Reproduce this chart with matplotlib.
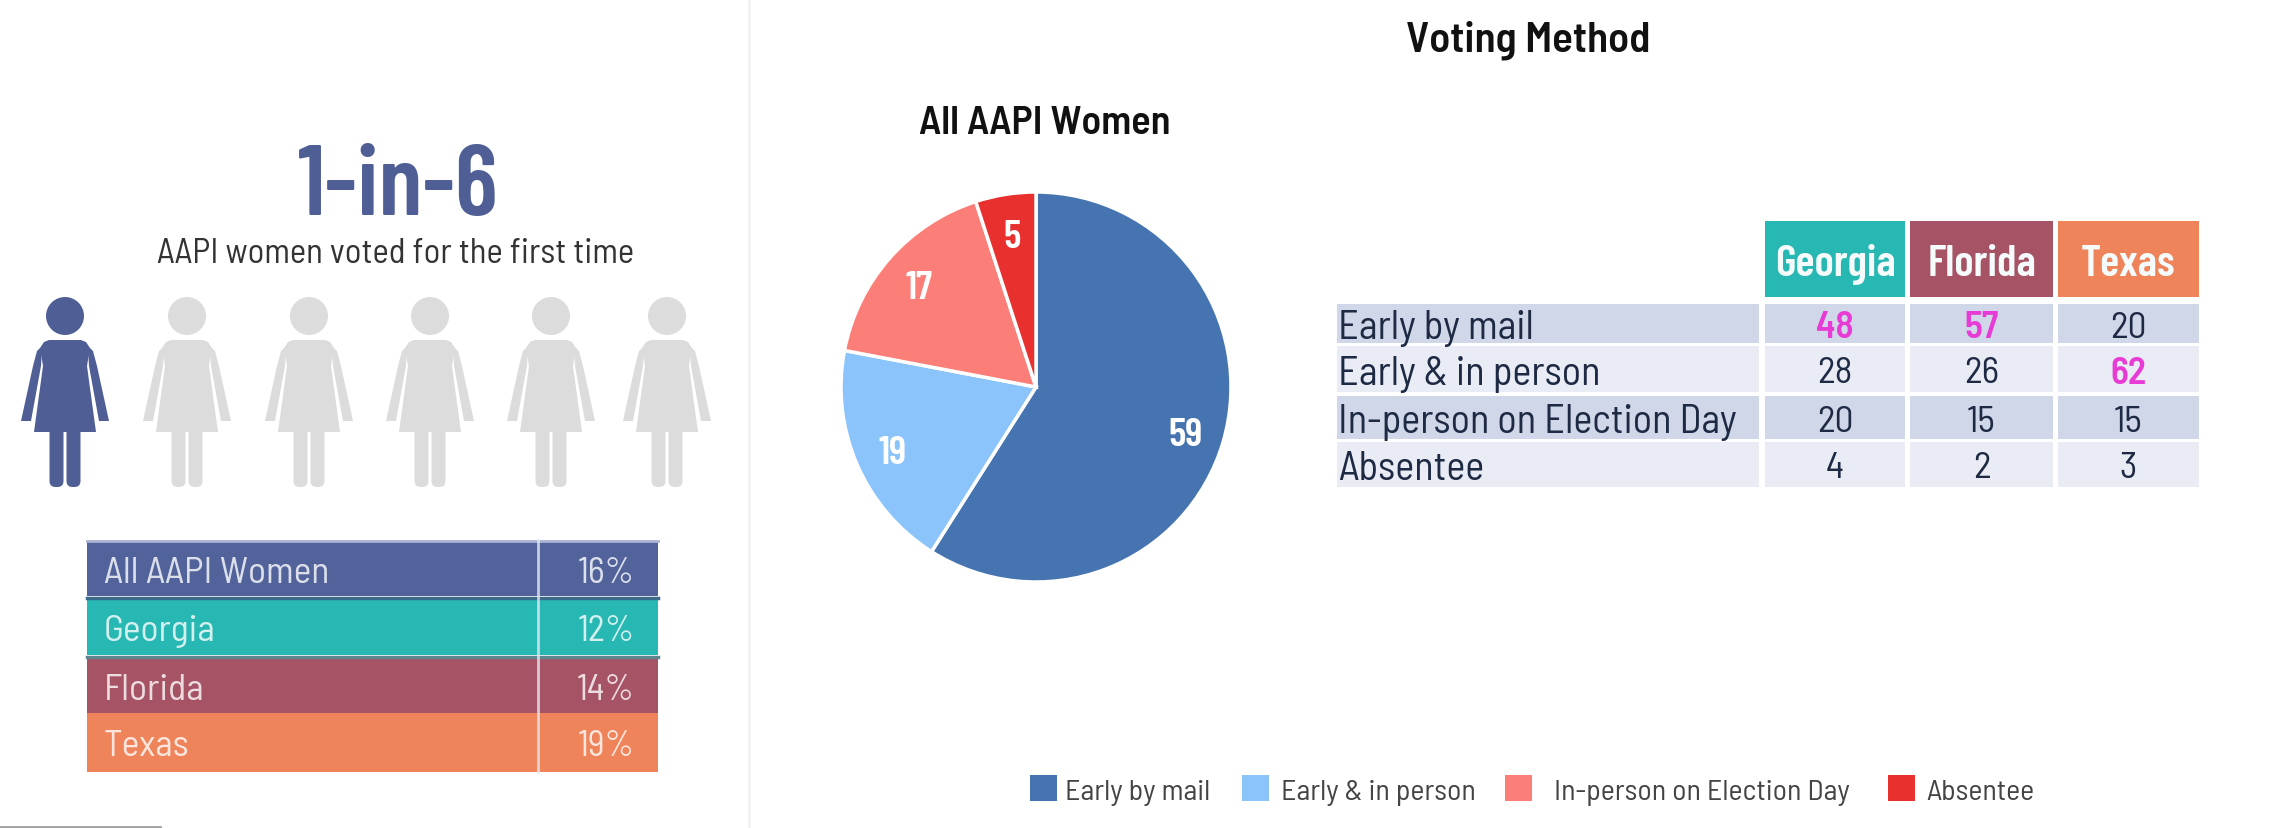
# -*- coding: utf-8 -*-
"""First time voters and voting method of AAPI women."""

import matplotlib
matplotlib.use('Agg')
import matplotlib.pyplot as plt
from matplotlib.patches import Ellipse, FancyBboxPatch, Polygon, Rectangle

# Values:
lstGroups = ['All AAPI Women', 'Georgia', 'Florida', 'Texas']
lstFirstTime = [16, 12, 14, 19]
lstMethods = ['Early by mail', 'Early & in person',
              'In-person on Election Day', 'Absentee']
lstPieAll = [59, 19, 17, 5]
lstStates = ['Georgia', 'Florida', 'Texas']
lstGeorgia = [48, 28, 20, 4]
lstFlorida = [57, 26, 15, 2]
lstTexas = [20, 62, 15, 3]

# Font types, semi condensed for most of the labels:
lstFont = ['Barlow Semi Condensed', 'Barlow Condensed', 'Archivo Narrow',
           'Liberation Sans', 'DejaVu Sans']
lstFontNarrow = ['Barlow Condensed', 'Archivo Narrow', 'Liberation Sans',
                 'DejaVu Sans']
plt.rcParams['font.family'] = lstFont

# Colours:
lstGroupClr = ['#52639b', '#27b8b4', '#a55365', '#ef835a']
lstPieClr = ['#4674b0', '#8ac4fb', '#fb7f78', '#e8302f']
strNavy = '#4f5f96'
strGrey = '#dcdcdc'
strDark = '#1e2a44'
strPink = '#e83bd6'

# Create main figure, background axes use image pixels as units:
fig01 = plt.figure(figsize=(22.75, 8.29), dpi=100, facecolor='w')
axsBck = fig01.add_axes([0, 0, 1, 1])
axsBck.set_xlim(0, 2275)
axsBck.set_ylim(829, 0)
axsBck.axis('off')

# Separator between panels and the grey line in the corner:
axsBck.plot([749, 749], [0, 829], color='#f1f1f1', lw=2)
axsBck.plot([0, 160], [828, 828], color='#a0a0a0', lw=2)

# ---- Left panel ----
axsBck.text(398, 180, '1-in-6', fontsize=72, fontweight='semibold',
            family=lstFontNarrow, color=strNavy, ha='center',
            va='center_baseline')
axsBck.text(396, 250, 'AAPI women voted for the first time', fontsize=25,
            color='#333333', ha='center', va='center_baseline')


def draw_person(varX, strClr):
    """Draw one person icon around the horizontal position varX."""
    varTop = 341
    axsBck.add_patch(Ellipse((varX, 317), 38, 38, color=strClr, lw=0))
    lstDress = [(-16, 0), (16, 0), (21, 2), (25, 8), (22, 26), (31, 92),
                (-31, 92), (-22, 26), (-25, 8), (-21, 2)]
    lstArm = [(25, 8), (28, 11), (32, 26), (44, 81), (34, 81), (24, 26),
              (23, 10)]
    axsBck.add_patch(Polygon([(varX + x, varTop + y) for x, y in lstDress],
                             color=strClr, lw=0))
    for varSide in [-1, 1]:
        axsBck.add_patch(Polygon([(varX + varSide * x, varTop + y)
                                  for x, y in lstArm],
                                 color=strClr, lw=0))
    # Legs, the upper end is hidden in the dress:
    for varLeg in [-15.5, 1.5]:
        axsBck.add_patch(FancyBboxPatch((varX + varLeg, varTop + 80), 14, 67,
                                        boxstyle='round,pad=0,rounding_size=6',
                                        color=strClr, lw=0))


# One in six is highlighted:
lstPersonX = [65, 187, 309, 430, 551, 667]
for idx, varX in enumerate(lstPersonX):
    draw_person(varX, strNavy if idx == 0 else strGrey)

# Table of first time voters:
lstRowTop = [543, 600, 659, 714]
lstRowBot = [597, 656, 714, 773]
for idx, strGroup in enumerate(lstGroups):
    axsBck.add_patch(Rectangle((87, lstRowTop[idx]), 571,
                               lstRowBot[idx] - lstRowTop[idx],
                               color=lstGroupClr[idx], lw=0))
    varMid = 0.5 * (lstRowTop[idx] + lstRowBot[idx])
    axsBck.text(104, varMid, strGroup, fontsize=27, color='w', alpha=0.8,
                ha='left', va='center_baseline')
    axsBck.text(635, varMid, str(lstFirstTime[idx]) + '%', fontsize=26,
                color='w', alpha=0.8, ha='right', va='center_baseline')
axsBck.plot([87, 658], [542, 542], color='#a9b2d3', lw=2)
axsBck.plot([87, 658], [598.5, 598.5], color='#3d6b8a', lw=2.5)
axsBck.plot([87, 658], [657.5, 657.5], color='#5f8590', lw=2.5)
axsBck.plot([538, 538], [541, 773], color='#e6e8f2', lw=2, alpha=0.8)

# ---- Right panel ----
axsBck.text(1528, 36, 'Voting Method', fontsize=31, fontweight='semibold',
            color='#111111', ha='center', va='center_baseline')
axsBck.text(1045, 120, 'All AAPI Women', fontsize=29, fontweight='semibold',
            color='#111111', ha='center', va='center_baseline')

# Pie in its own axes, radius of 195 pixels around (1036, 388):
varPad = 1.02
varRad = 195 * varPad
axsPie = fig01.add_axes([(1036 - varRad) / 2275,
                         (829 - 388 - varRad) / 829,
                         2 * varRad / 2275,
                         2 * varRad / 829])
lstWedges, lstTxt = axsPie.pie(lstPieAll,
                               colors=lstPieClr,
                               labels=[str(x) for x in lstPieAll],
                               labeldistance=0.8,
                               startangle=90,
                               counterclock=False,
                               wedgeprops={'edgecolor': 'w', 'linewidth': 2.5})
for objTxt in lstTxt:
    objTxt.set_color('w')
    objTxt.set_family(lstFontNarrow)
    objTxt.set_fontsize(29)
    objTxt.set_fontweight('semibold')
    objTxt.set_ha('center')
    objTxt.set_va('center_baseline')
axsPie.set_xlim(-varPad, varPad)
axsPie.set_ylim(-varPad, varPad)

# Table of voting methods per state:
lstColLeft = [1765, 1910, 2058]
lstColRight = [1905, 2053, 2199]
lstTblTop = [305, 347, 397, 443]
lstTblBot = [344, 393, 440, 488]
lstTblClr = ['#cfd7e8', '#e9ecf5', '#cfd7e8', '#e9ecf5']
lstStateClr = lstGroupClr[1:]
lstColumns = [lstGeorgia, lstFlorida, lstTexas]

for idx, strState in enumerate(lstStates):
    axsBck.add_patch(Rectangle((lstColLeft[idx], 222),
                               lstColRight[idx] - lstColLeft[idx], 76,
                               color=lstStateClr[idx], lw=0))
    axsBck.text(0.5 * (lstColLeft[idx] + lstColRight[idx]), 260, strState,
                fontsize=32, fontweight='semibold', family=lstFontNarrow,
                color='#f4fbfa', ha='center', va='center_baseline')

for idxRow, strMethod in enumerate(lstMethods):
    varH = lstTblBot[idxRow] - lstTblTop[idxRow]
    varMid = 0.5 * (lstTblTop[idxRow] + lstTblBot[idxRow])
    axsBck.add_patch(Rectangle((1337, lstTblTop[idxRow]), 422, varH,
                               color=lstTblClr[idxRow], lw=0))
    axsBck.text(1338, varMid, strMethod, fontsize=29, color=strDark,
                ha='left', va='center_baseline')
    for idxCol, lstCol in enumerate(lstColumns):
        axsBck.add_patch(Rectangle((lstColLeft[idxCol], lstTblTop[idxRow]),
                                   lstColRight[idxCol] - lstColLeft[idxCol],
                                   varH, color=lstTblClr[idxRow], lw=0))
        # Largest method of a state is highlighted:
        varVal = lstCol[idxRow]
        blnTop = varVal == max(lstCol)
        axsBck.text(0.5 * (lstColLeft[idxCol] + lstColRight[idxCol]), varMid,
                    str(varVal), fontsize=27,
                    fontweight='semibold' if blnTop else 'normal',
                    color=strPink if blnTop else strDark,
                    ha='center', va='center_baseline')

# Legend of the pie:
lstLgdBox = [1030, 1242, 1505, 1888]
for idx, strMethod in enumerate(lstMethods):
    axsBck.add_patch(Rectangle((lstLgdBox[idx], 776), 27, 26,
                               color=lstPieClr[idx], lw=0))
lstLgdTxt = [1065, 1281, 1554, 1926]
for idx, strMethod in enumerate(lstMethods):
    axsBck.text(lstLgdTxt[idx], 790, strMethod, fontsize=21.5, color='#444444',
                ha='left', va='center_baseline')

# Save figure:
fig01.savefig('out.png', dpi=100, facecolor='w')
